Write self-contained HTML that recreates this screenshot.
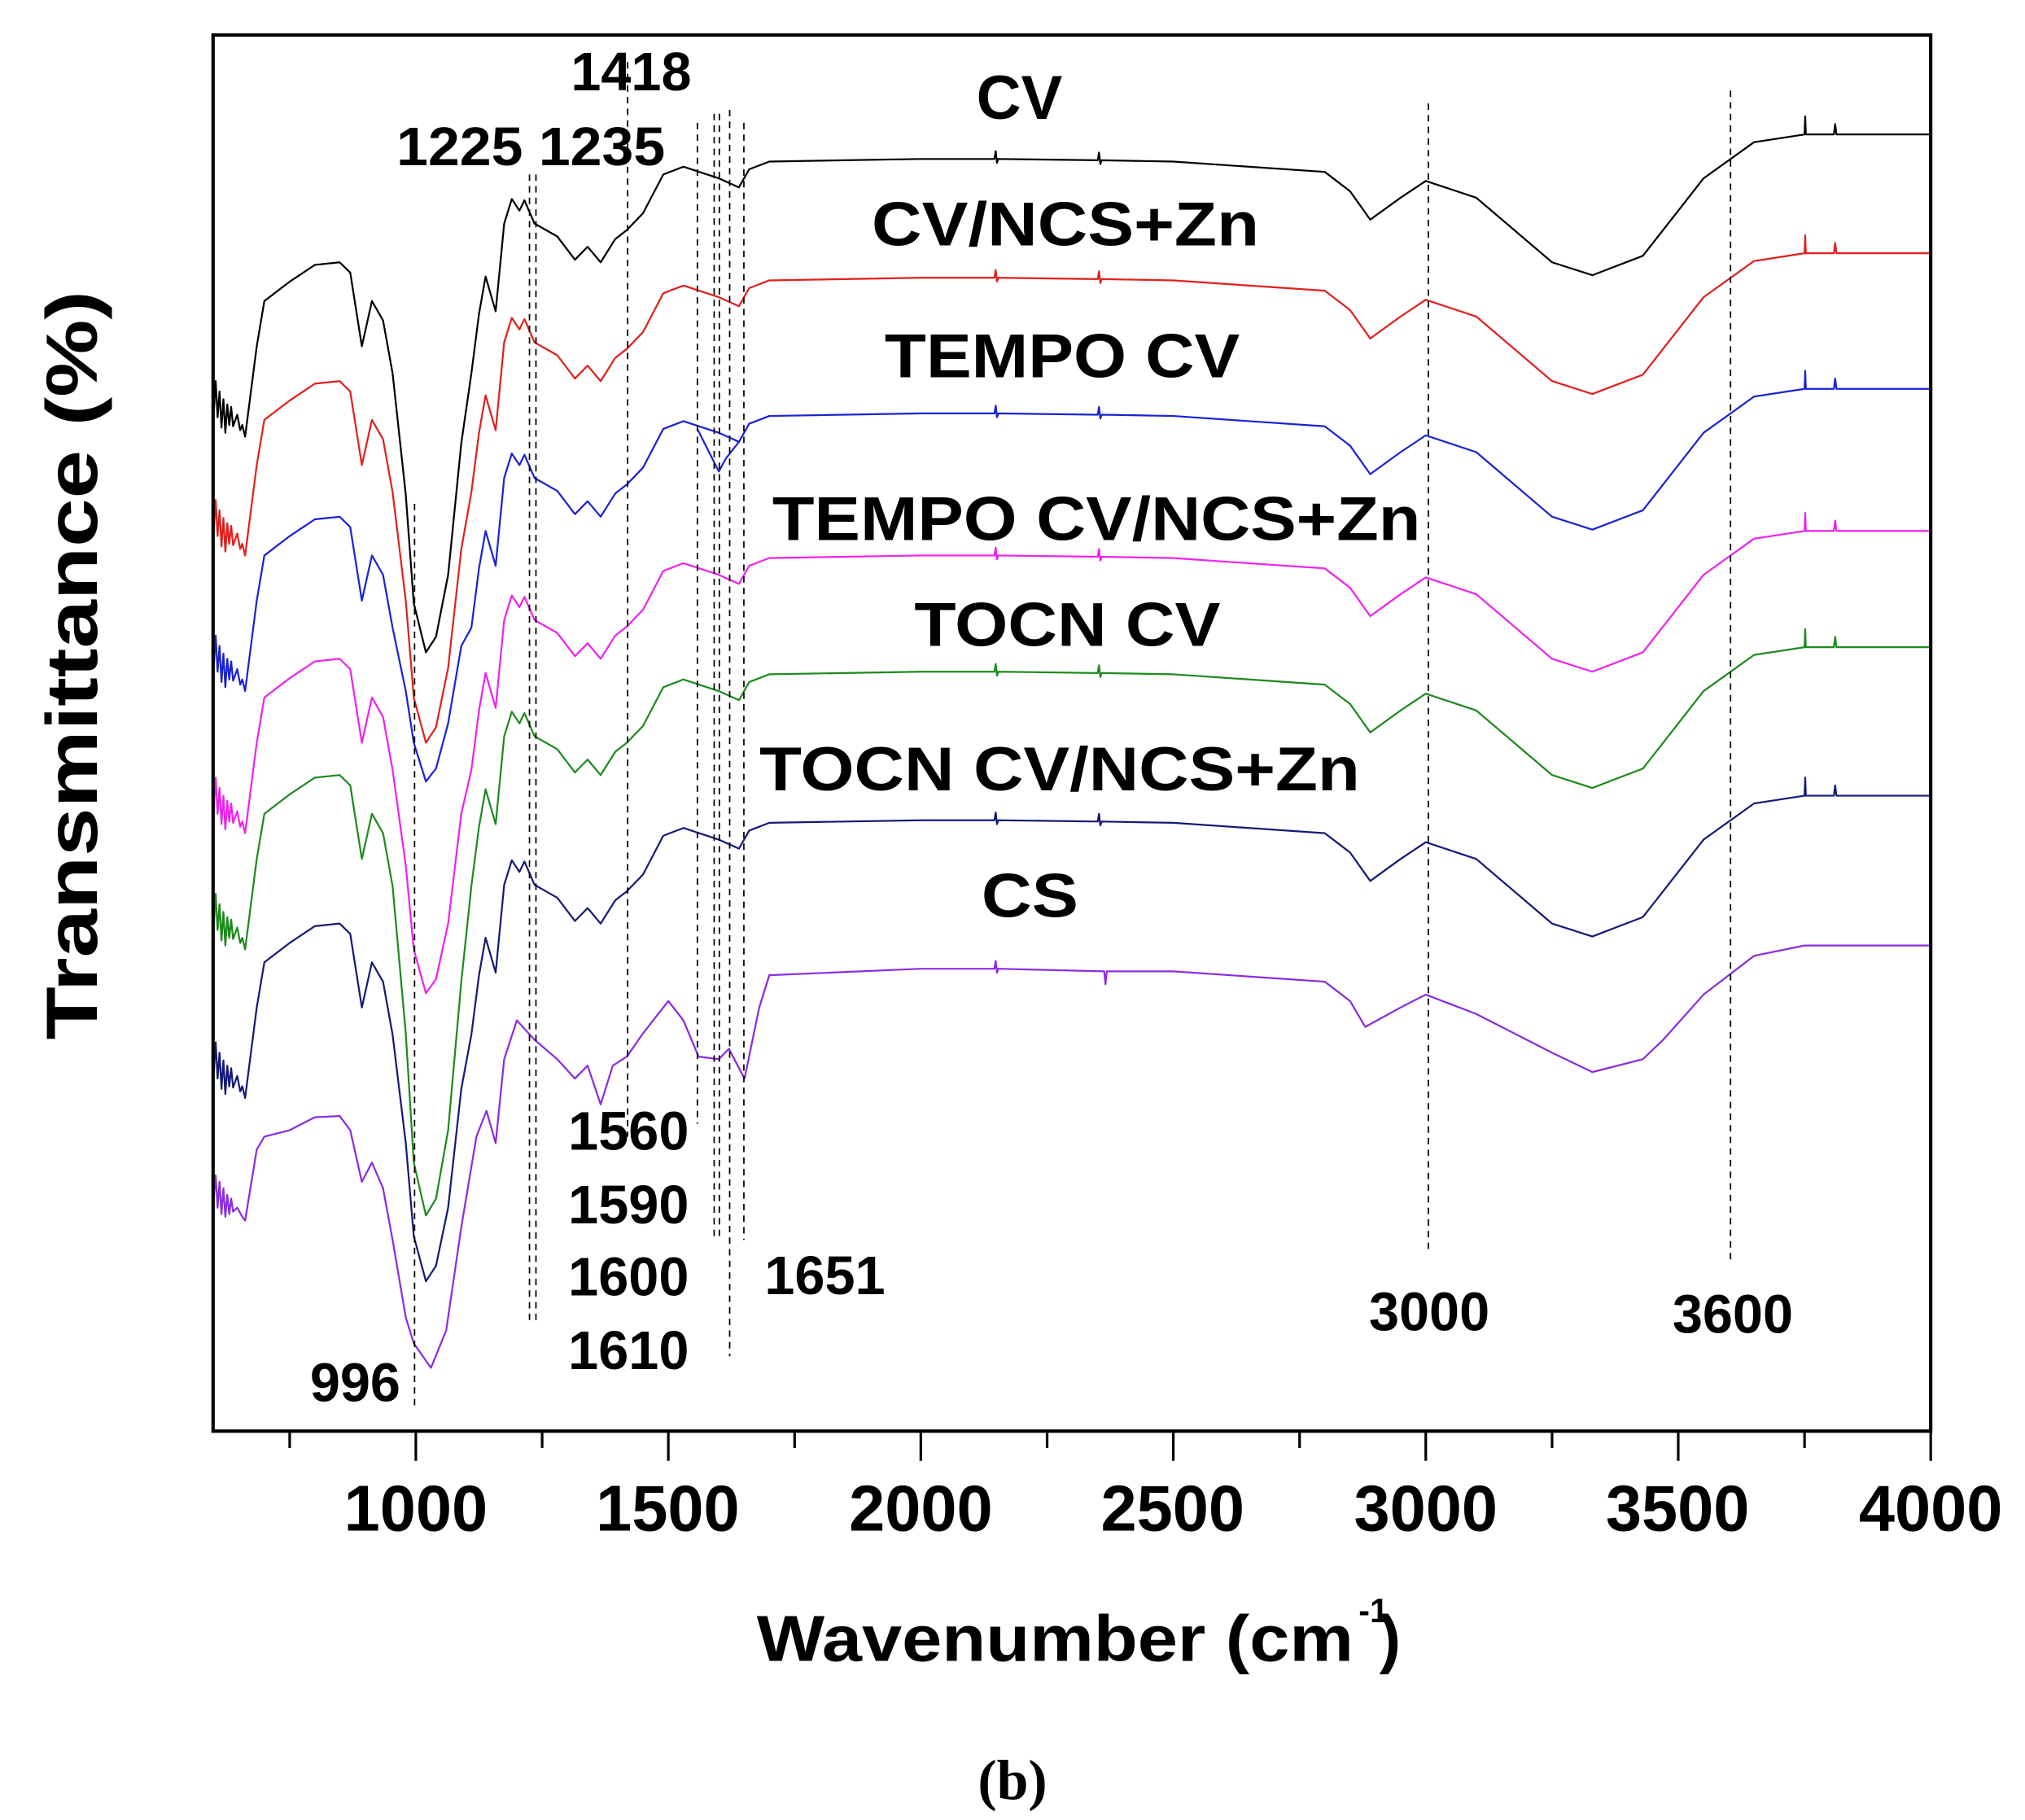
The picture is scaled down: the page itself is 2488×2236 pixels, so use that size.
<!DOCTYPE html>
<html><head><meta charset="utf-8"><style>
html,body{margin:0;padding:0;background:#fff}
svg{display:block}
text{font-family:"Liberation Sans",Arial,sans-serif;font-weight:bold;fill:#000}
</style></head><body>
<svg width="2488" height="2236" viewBox="0 0 1568 1409" xmlns="http://www.w3.org/2000/svg" xmlns:xlink="http://www.w3.org/1999/xlink">
<rect x="0" y="0" width="1568" height="1409" fill="#fff"/>
<defs>
<path id="hd" d="M165.6,195 L167,172 L168.5,200 L170,180 L171.5,208 L173,186 L174.5,212 L176,190 L177.5,206 L179,192 L180.5,207 L183.7,198 L186,210 L187.6,206 L189.8,215 L198.8,145 L204.7,110 L224.3,95 L243.8,82 L263,80 L271.2,88 L280.2,145 L288,110 L296.6,125 L304,166"/>
<path id="tl" d="M365,166 L370.9,120 L376,91 L383.8,118 L390.4,50 L396.3,31 L402.2,40 L406.1,32 L413.9,50 L431.5,60 L445.2,78 L455,68 L465.1,80 L476.4,62 L485.4,55 L497.9,42 L513.6,12 L529.2,6 L556.6,15 L572.2,22 L580.1,8 L595.7,2 L713,0 L770,0 L771,-6 L772,3 L773,0 L850,1 L851,-5 L852,4 L853,1 L908.5,2 L1025.8,10 L1045.4,25 L1061,47 L1084.5,30 L1104,17 L1143.1,30 L1201.8,80 L1233,90 L1272.1,75 L1287.8,55 L1319.1,15 L1358.2,-13 L1397.3,-19 L1397.8,-33 L1398.3,-19 L1420,-19 L1421,-27 L1422,-19 L1495,-19"/>
</defs>
<g fill="none" stroke-width="1.4" stroke-linejoin="round">
<g stroke="#000" transform="translate(0,123)"><use xlink:href="#hd"/><use xlink:href="#tl"/><path d="M304,166 L314.2,260 L320.4,344 L329.8,382 L337.6,370 L347,322 L357.2,220 L365,166"/></g>
<g stroke="#e0201c" transform="translate(0,215)"><use xlink:href="#hd"/><use xlink:href="#tl"/><path d="M304,166 L314.2,250 L320.4,325 L329.8,360 L337.6,348 L347,302 L357.2,210 L365,166"/></g>
<g stroke="#1b22d4" transform="translate(0,320)"><use xlink:href="#hd"/><use xlink:href="#tl"/><path d="M304,166 L314.2,215 L320.4,255 L329.8,285 L337.6,275 L347,240 L357.2,180 L365,166"/><path d="M540,12 L556.6,45 L562,35 L572.2,22"/></g>
<g stroke="#ee22ee" transform="translate(0,430)"><use xlink:href="#hd"/><use xlink:href="#tl"/><path d="M304,166 L314.2,240 L320.4,305 L329.8,339 L337.6,328 L347,285 L357.2,200 L365,166"/></g>
<g stroke="#1d8a1d" transform="translate(0,520)"><use xlink:href="#hd"/><use xlink:href="#tl"/><path d="M304,166 L314.2,280 L320.4,380 L329.8,421 L337.6,408 L347,355 L357.2,240 L365,166"/></g>
<g stroke="#141a78" transform="translate(0,635)"><use xlink:href="#hd"/><use xlink:href="#tl"/><path d="M304,166 L314.2,250 L320.4,322 L329.8,357 L337.6,345 L347,300 L357.2,208 L365,166"/></g>
<g stroke="#8a2be2" transform="translate(0,750)"><path d="M165.6,177 L167,160 L168.5,185 L170,165 L171.5,190 L173,170 L174.5,192 L176,175 L177.5,190 L179,178 L180.5,188 L183.7,185 L187.6,192 L189.8,195 L198.8,140 L204.7,130 L224.3,125 L243.8,115 L263,114 L271.2,125 L280.2,165 L288,150 L296.6,170 L304,210 L314.2,270 L320.4,290 L333.7,309 L345.5,280 L357.2,200 L368.9,130 L376.7,110 L383.8,135 L390.4,70 L400.2,40 L413.9,55 L431.5,70 L445.2,85 L455,75 L465.1,105 L474.5,75 L485.4,68 L497.9,50 L517.5,25 L529.2,40 L540.9,68 L556.6,70 L564.4,62 L576.5,85 L587.9,30 L595.7,5 L713,0 L770,0 L771,-6 L772,3 L773,0 L855,2 L856,12 L857,2 L908.5,2 L1025.8,10 L1045.4,25 L1057.1,45 L1084.5,30 L1104,20 L1143.1,35 L1201.8,65 L1233,80 L1272.1,70 L1287.8,55 L1319.1,20 L1358.2,-10 L1397.3,-18 L1495,-18"/></g>
</g>
<g stroke="#000" stroke-width="1.1" stroke-dasharray="5,4" fill="none">
<line x1="321" y1="390" x2="321" y2="1092"/>
<line x1="410" y1="135" x2="410" y2="1022"/>
<line x1="415" y1="135" x2="415" y2="1022"/>
<line x1="486" y1="48" x2="486" y2="880"/>
<line x1="540" y1="95" x2="540" y2="870"/>
<line x1="553" y1="88" x2="553" y2="960"/>
<line x1="557" y1="88" x2="557" y2="960"/>
<line x1="565" y1="85" x2="565" y2="1050"/>
<line x1="576" y1="95" x2="576" y2="960"/>
<line x1="1106" y1="80" x2="1106" y2="970"/>
<line x1="1340" y1="70" x2="1340" y2="975"/>
</g>
<rect x="165" y="27" width="1330" height="1081" fill="none" stroke="#000" stroke-width="2.6"/>
<g stroke="#000" stroke-width="2">
<line x1="224.3" y1="1108" x2="224.3" y2="1121"/><line x1="322" y1="1108" x2="322" y2="1131"/>
<line x1="419.8" y1="1108" x2="419.8" y2="1121"/><line x1="517.5" y1="1108" x2="517.5" y2="1131"/>
<line x1="615.3" y1="1108" x2="615.3" y2="1121"/><line x1="713" y1="1108" x2="713" y2="1131"/>
<line x1="810.8" y1="1108" x2="810.8" y2="1121"/><line x1="908.5" y1="1108" x2="908.5" y2="1131"/>
<line x1="1006.3" y1="1108" x2="1006.3" y2="1121"/><line x1="1104" y1="1108" x2="1104" y2="1131"/>
<line x1="1201.8" y1="1108" x2="1201.8" y2="1121"/><line x1="1299.5" y1="1108" x2="1299.5" y2="1131"/>
<line x1="1397.3" y1="1108" x2="1397.3" y2="1121"/><line x1="1495" y1="1108" x2="1495" y2="1131"/>
</g>
<g font-size="50" text-anchor="middle">
<text x="322" y="1185">1000</text><text x="517" y="1185">1500</text><text x="713" y="1185">2000</text>
<text x="908" y="1185">2500</text><text x="1104" y="1185">3000</text><text x="1299" y="1185">3500</text>
<text x="1495" y="1185">4000</text>
</g>
<text x="586" y="1286" font-size="50" textLength="462" lengthAdjust="spacingAndGlyphs">Wavenumber (cm</text>
<text x="1052" y="1256" font-size="26">-1</text>
<text x="1068" y="1286" font-size="50">)</text>
<text transform="translate(75,515) rotate(-90)" font-size="56" text-anchor="middle" textLength="580" lengthAdjust="spacingAndGlyphs">Transmittance (%)</text>
<text x="784" y="1393" font-size="44" text-anchor="middle" style="font-family:'Liberation Serif',serif">(b)</text>
<g font-size="42">
<text x="442" y="70">1418</text>
<text x="307" y="128" textLength="208" lengthAdjust="spacingAndGlyphs">1225 1235</text>
<text x="240" y="1085">996</text>
<text x="440" y="890">1560</text>
<text x="440" y="947">1590</text>
<text x="440" y="1003">1600</text>
<text x="440" y="1060">1610</text>
<text x="592" y="1002">1651</text>
<text x="1060" y="1030">3000</text>
<text x="1295" y="1032">3600</text>
</g>
<g font-size="48">
<text x="756" y="92">CV</text>
<text x="675" y="190" textLength="300" lengthAdjust="spacingAndGlyphs">CV/NCS+Zn</text>
<text x="685" y="292" textLength="275" lengthAdjust="spacingAndGlyphs">TEMPO CV</text>
<text x="598" y="418" textLength="502" lengthAdjust="spacingAndGlyphs">TEMPO CV/NCS+Zn</text>
<text x="708" y="500" textLength="237" lengthAdjust="spacingAndGlyphs">TOCN CV</text>
<text x="588" y="612" textLength="465" lengthAdjust="spacingAndGlyphs">TOCN CV/NCS+Zn</text>
<text x="760" y="710" textLength="75" lengthAdjust="spacingAndGlyphs">CS</text>
</g>
</svg>
</body></html>
